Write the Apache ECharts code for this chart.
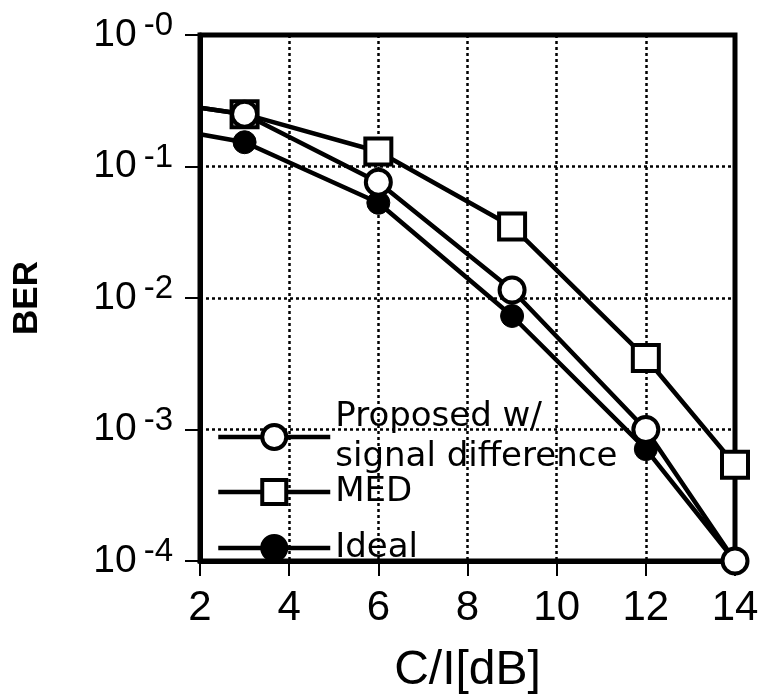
<!DOCTYPE html>
<html>
<head>
<meta charset="utf-8">
<script src="https://cdn.jsdelivr.net/npm/echarts@6/dist/echarts.min.js"></script>
<style>
  html, body { margin: 0; padding: 0; background: #fff; }
  #container { width: 769px; height: 700px; }
</style>
</head>
<body>
<div id="container"></div>
<script>
// C/I [dB] values; the x=2 entry is only where the line enters the frame
var ciValues = [2, 3, 6, 9, 12, 14];
var xTicks = [2, 4, 6, 8, 10, 12, 14];
var yDecades = [1e-4, 1e-3, 1e-2, 1e-1, 1];

// BER
var berProposed = [0.28, 0.25, 0.076, 0.0115, 0.001, 0.0001];
var berMED = [0.28, 0.25, 0.13, 0.035, 0.0035, 0.00054];
var berIdeal = [0.176, 0.153, 0.053, 0.0073, 0.00071, 0.0001];

var seriesNames = ['Proposed w/\nsignal difference', 'MED', 'Ideal'];

function toPoints(ys) {
    return ciValues.map(function (x, i) {
        var p = { value: [x, ys[i]] };
        if (i === 0) p.symbol = 'none'; // no marker on the entry point
        return p;
    });
}

var labelFont = '"Liberation Sans", Arial, sans-serif';

var myChart = echarts.init(document.getElementById('container'));
myChart.setOption({
    animation: false,
    backgroundColor: '#fff',
    grid: {
        left: 200, right: 34, top: 35, bottom: 135,
        show: true, borderColor: '#000', borderWidth: 5
    },
    legend: {
        orient: 'vertical',
        left: 211,
        top: 392,
        itemWidth: 112,
        itemHeight: 30,
        itemGap: -5,
        lineStyle: { width: 4.5, color: '#000' },
        itemStyle: { borderWidth: 4, borderColor: '#000' },
        data: [
            { name: seriesNames[0], textStyle: { lineHeight: 40 } },
            { name: seriesNames[1], textStyle: { lineHeight: 40 } },
            { name: seriesNames[2], textStyle: { lineHeight: 82 } }
        ],
        textStyle: {
            color: '#000',
            fontSize: 34,
            fontFamily: '"DejaVu Sans", sans-serif'
        }
    },
    xAxis: {
        type: 'value',
        min: 2, max: 14, interval: 2,
        name: 'C/I[dB]',
        nameLocation: 'middle',
        nameGap: 86,
        nameTextStyle: { color: '#000', fontSize: 48, fontFamily: labelFont },
        axisLine: { lineStyle: { color: '#000', width: 5 } },
        axisTick: { show: true, length: 15, lineStyle: { color: '#000', width: 2 } },
        axisLabel: {
            color: '#000', fontSize: 42, fontFamily: labelFont, margin: 26,
            formatter: function (v) { return xTicks.indexOf(v) >= 0 ? String(v) : ''; }
        },
        splitLine: { show: true, lineStyle: { color: '#000', width: 2.5, type: [3, 3] } }
    },
    yAxis: {
        type: 'log',
        logBase: 10,
        min: yDecades[0], max: yDecades[yDecades.length - 1],
        name: 'BER',
        nameLocation: 'middle',
        nameGap: 155,
        nameTextStyle: { color: '#000', fontSize: 35, fontWeight: 'bold', fontFamily: labelFont },
        axisLine: { lineStyle: { color: '#000', width: 5 } },
        axisTick: { show: true, length: 15, lineStyle: { color: '#000', width: 2 } },
        minorTick: { show: false },
        axisLabel: {
            margin: 27,
            formatter: function (v) {
                var e = Math.round(Math.log(v) / Math.LN10);
                return '{a|10}{b|-' + Math.abs(e) + '}';
            },
            rich: {
                a: { fontSize: 39, color: '#000', fontFamily: labelFont, lineHeight: 44 },
                b: { fontSize: 33, color: '#000', fontFamily: labelFont, lineHeight: 44,
                     padding: [0, 0, 18, 7] }
            }
        },
        splitLine: { show: true, lineStyle: { color: '#000', width: 2.5, type: [3, 3] } }
    },
    series: [
        {
            name: seriesNames[1],
            type: 'line',
            data: toPoints(berMED),
            symbol: 'rect',
            symbolSize: 26,
            lineStyle: { color: '#000', width: 4.5 },
            itemStyle: { color: '#fff', borderColor: '#000', borderWidth: 4 },
            z: 2
        },
        {
            name: seriesNames[2],
            type: 'line',
            data: toPoints(berIdeal),
            symbol: 'circle',
            symbolSize: 23,
            lineStyle: { color: '#000', width: 4.5 },
            itemStyle: { color: '#000', borderColor: '#000', borderWidth: 1 },
            z: 3
        },
        {
            name: seriesNames[0],
            type: 'line',
            data: toPoints(berProposed),
            symbol: 'circle',
            symbolSize: 25,
            lineStyle: { color: '#000', width: 4.5 },
            itemStyle: { color: '#fff', borderColor: '#000', borderWidth: 4 },
            z: 4
        }
    ]
});
</script>
</body>
</html>
